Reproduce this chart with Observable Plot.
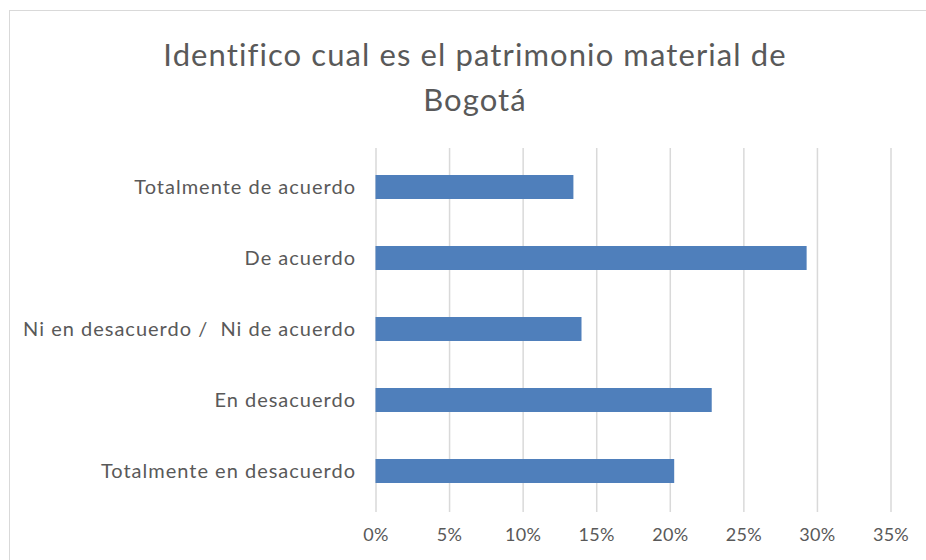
<!DOCTYPE html>
<html>
<head>
<meta charset="utf-8">
<script src="https://cdn.jsdelivr.net/npm/d3@7"></script>
<script src="https://cdn.jsdelivr.net/npm/@observablehq/plot@0.6"></script>
<style>
  html, body { margin: 0; padding: 0; background: #fff; overflow: hidden; }
  #wrap { position: relative; width: 926px; height: 560px; }
  #frame { position: absolute; left: 9px; top: 10px; width: 1000px; height: 600px; border: 1px solid #d9d9d9; box-sizing: border-box; }
  #title { position: absolute; left: 125px; width: 700px; top: 32px; text-align: center;
           font-family: Lato, "Open Sans", sans-serif; font-size: 31px; line-height: 45px; color: #595959; letter-spacing: 1.1px; }
  #chart { position: absolute; left: 0; top: 0; }
  #chart g[aria-label="y-axis tick label"] text { letter-spacing: 1px; }
  #chart g[aria-label="x-axis tick label"] text { letter-spacing: 0.3px; }
</style>
</head>
<body>
<div id="wrap">
  <div id="frame"></div>
  <div id="title">Identifico cual es el patrimonio material de<br>Bogotá</div>
  <div id="chart"></div>
</div>
<script>
const categories = [
  "Totalmente de acuerdo",
  "De acuerdo",
  "Ni en desacuerdo /  Ni de acuerdo",
  "En desacuerdo",
  "Totalmente en desacuerdo"
];
const values = [0.1345, 0.293, 0.140, 0.2285, 0.203];
const xTicks = [0, 0.05, 0.10, 0.15, 0.20, 0.25, 0.30, 0.35];

const data = categories.map((c, i) => ({category: c, value: values[i]}));

const chart = Plot.plot({
  width: 926,
  height: 560,
  marginLeft: 375.5,
  marginRight: 35.5,
  marginTop: 150,
  marginBottom: 52,
  style: {fontFamily: "Lato, 'Open Sans', sans-serif", fontSize: "18px", color: "#595959", background: "transparent", overflow: "visible"},
  x: {domain: [0, 0.35], label: null},
  y: {domain: categories, paddingInner: 0.665, paddingOuter: 0.335, label: null},
  marks: [
    Plot.ruleX(xTicks, {stroke: "#d9d9d9", strokeWidth: 1.5, insetTop: -2, insetBottom: -4}),
    Plot.barX(data, {x: "value", y: "category", fill: "#4f7fbb"}),
    Plot.axisX({ticks: xTicks, tickFormat: d3.format(".0%"), tickSize: 0, tickPadding: 20, fontSize: 18, label: null}),
    Plot.axisY({tickSize: 0, tickPadding: 20, fontSize: 20, label: null})
  ]
});
document.getElementById("chart").appendChild(chart);
</script>
</body>
</html>
